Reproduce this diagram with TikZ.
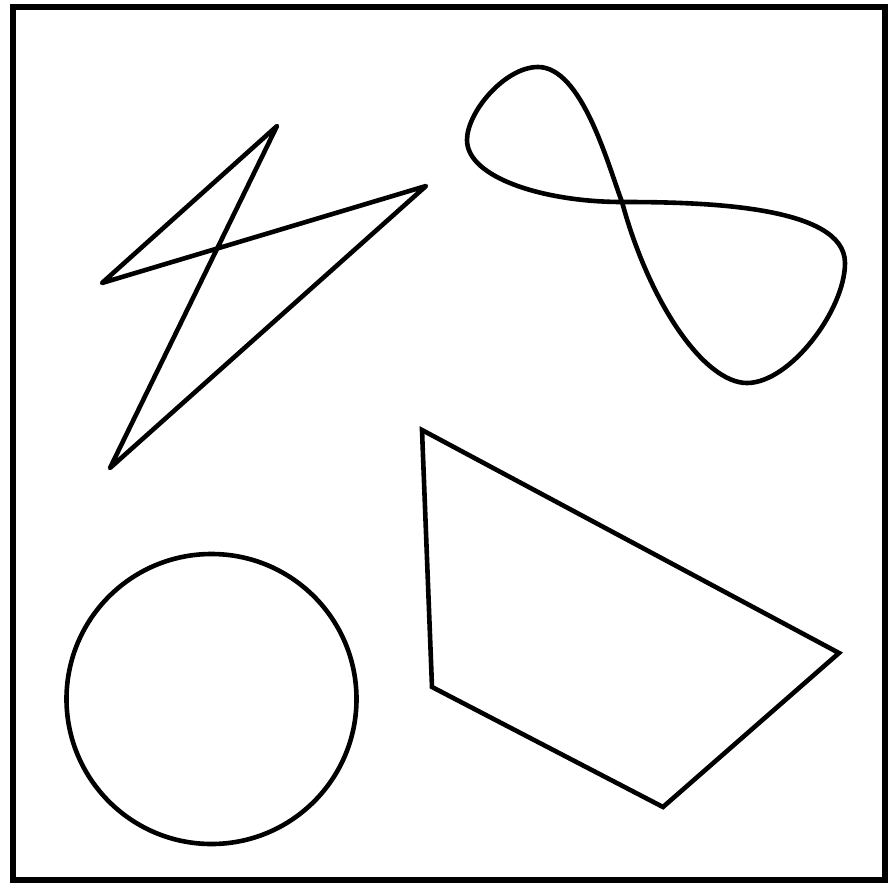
\documentclass[tikz,border=0pt]{standalone}
\begin{document}
\begin{tikzpicture}[x=1pt,y=-1pt,
  shape line/.style={draw=black,line width=4.6pt,line join=round,line cap=round}]
\useasboundingbox (0,0) rectangle (889,886);
\fill[white] (0,0) rectangle (889,886);
% frame
\draw[line width=5.5pt] (13,7) rectangle (885,880);
% zigzag
\coordinate (zT) at (277,126);
\coordinate (zL) at (102,283);
\coordinate (zR) at (426,186);
\coordinate (zB) at (110,468);
\draw[shape line] (zT) -- (zL) -- (zR) -- (zB) -- cycle;
% figure eight
\coordinate (fC) at (622,202);
\draw[shape line] (fC) .. controls (608,165) and (582,67) .. (538,67)
  .. controls (505,67) and (467,112) .. (467,140)
  .. controls (467,178) and (545,202) .. (fC)
  .. controls (700,202) and (845,205) .. (845,263)
  .. controls (845,310) and (790,383) .. (747,383)
  .. controls (705,383) and (650,305) .. (fC) -- cycle;
% quadrilateral
\coordinate (qA) at (422,430);
\coordinate (qB) at (839,653);
\coordinate (qC) at (663,807);
\coordinate (qD) at (432,687);
\draw[shape line,line join=miter] (qA) -- (qB) -- (qC) -- (qD) -- cycle;
% circle
\coordinate (cO) at (211.5,699);
\draw[shape line] (cO) circle[radius=145];
\end{tikzpicture}
\end{document}
